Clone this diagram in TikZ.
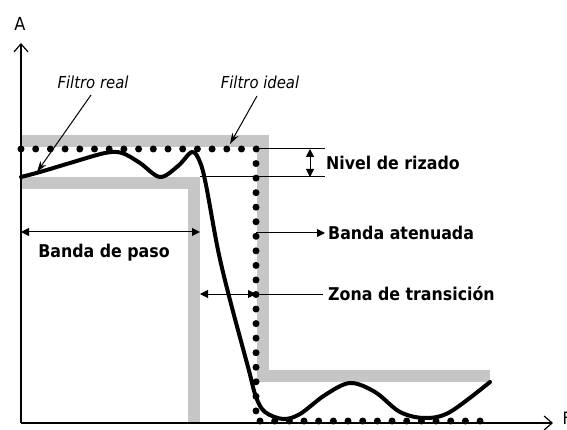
\documentclass[tikz,border=0pt]{standalone}
\usepackage{fontspec}
\setmainfont{DejaVu Sans Condensed}
\usetikzlibrary{arrows.meta}

\begin{document}
\begin{tikzpicture}[x=1pt,y=-1pt,
    band/.style={draw=gray!45,line width=12pt},
    real/.style={line width=4pt,line cap=round,line join=round},
    guide/.style={line width=1pt},
    arr/.style={-{Triangle[length=8pt,width=8pt]},line width=1pt},
    darr/.style={{Triangle[length=8pt,width=8pt]}-{Triangle[length=8pt,width=8pt]},
        line width=1pt},
    pointer/.style={-{Stealth[length=11pt,width=7pt]},line width=1pt},
    axis/.style={-{Straight Barb[length=8pt,width=14pt]},line width=1.2pt},
    label/.style={font=\fontsize{17.6}{20}\selectfont\bfseries,anchor=west,
        inner sep=0pt},
    note/.style={font=\fontsize{16.5}{18}\selectfont\itshape,inner sep=0pt},
    ]
    \useasboundingbox (0,0) rectangle (567,430);
    % Tolerance bands
    \draw[band] (21,141)--(262.5,141)--(262.5,376)--(490,376);
    \draw[band] (21,183.5)--(193.5,183.5)--(193.5,423);
    % Axes
    \coordinate (O) at (21,423);
    \coordinate (ytop) at (21,43);
    \coordinate (xend) at (553,423);
    \draw[axis] (O) -- (ytop);
    \draw[axis] (O) -- (xend);
    \node (A) at (20,24) {\fontsize{18}{20}\selectfont A};
    \node[anchor=west,inner sep=0pt] (F) at (562.5,418)
         {\fontsize{17}{20}\selectfont F};
    % Ideal filter
    \foreach \i in {0,...,16}
        \fill (21+14.7*\i,149) circle (3.5pt);
    \foreach \i in {1,...,18}
        \fill (256,149+14.55*\i) circle (3.5pt);
    \foreach \i in {0,...,15}
        \fill (260+14.67*\i,421) circle (3.5pt);
    % Real filter
    \draw[real] plot[smooth,tension=0.55] coordinates {
        (21,177) (40,172) (70,163) (105,153) (122,153) (140,163)
        (160,177) (178,166) (192,152) (200,162) (206,185) (218,250)
        (230,300) (248,367) (256,397) (265,412) (283,419) (300,414)
        (325,395) (350,383) (375,392) (400,412) (425,418) (450,412)
        (490,382)};
    % Filter names
    \node[note] (real) at (93,82) {Filtro real};
    \coordinate (realtip) at (37,172);
    \draw[pointer] (91,95) -- (realtip);
    \node[note] (ideal) at (260,82) {Filtro ideal};
    \coordinate (idealtip) at (230,144);
    \draw[pointer] (257,96) -- (idealtip);
    % Ripple level
    \coordinate (rtop) at (256,149);
    \coordinate (rbot) at (200,177);
    \draw[guide] (rtop) -- (325,149);
    \draw[guide] (rbot) -- (325,177);
    \draw[darr] (310,149) -- (310,177);
    \node[label] (ripple) at (326,163) {Nivel de rizado};
    % Stop band
    \coordinate (sb) at (256,233);
    \node[label] (stopband) at (328,233) {Banda atenuada};
    \draw[arr] (sb) -- ([xshift=-3pt]stopband.west);
    % Transition zone
    \coordinate (tz) at (256,294);
    \coordinate (tzl) at (200,294);
    \node[label] (trans) at (328,294) {Zona de transición};
    \draw[guide] (tz) -- ([xshift=-5pt]trans.west);
    \draw[darr] (tzl) -- (tz);
    % Pass band
    \coordinate (pbl) at (21,232);
    \coordinate (pbr) at (200,232);
    \draw[darr] (pbl) -- (pbr);
    \node[font=\fontsize{17.6}{20}\selectfont\bfseries] (pass) at (104,253)
         {Banda de paso};
\end{tikzpicture}
\end{document}
